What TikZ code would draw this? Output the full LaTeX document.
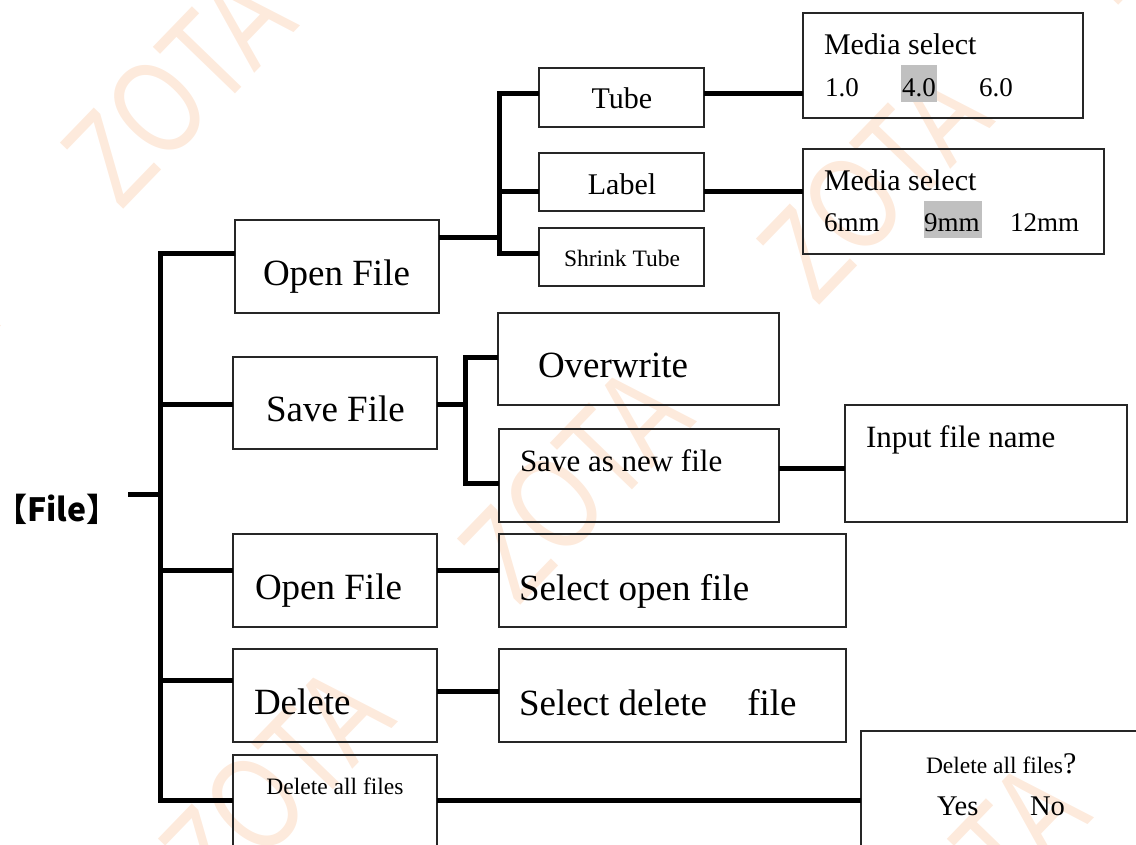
\documentclass[tikz,border=0pt]{standalone}
\usepackage{fontspec}
\setmainfont{Liberation Serif}
\newfontfamily\wmfont{Liberation Sans}
\newfontfamily\cjkfont{Noto Sans CJK SC}
\newcommand\myfs[1]{\fontsize{#1}{#1}\selectfont}
\definecolor{wmcol}{RGB}{253,234,220}
\definecolor{hlcol}{RGB}{192,192,192}
\tikzset{
  box/.style={draw=black!85, line width=1.8pt, inner sep=0pt, outer sep=0pt, anchor=north west},
  conn/.style={line width=5pt, line join=miter},
  lbl/.style={inner sep=0pt, outer sep=0pt, anchor=base west},
  clbl/.style={inner sep=0pt, outer sep=0pt, anchor=base},
  wm/.style={text=wmcol, font=\wmfont\myfs{133}, inner sep=0pt, rotate=46},
}
\newcommand\wmtext{\scalebox{0.75}[1]{ZOTA}}
\begin{document}
\begin{tikzpicture}[x=1pt,y=-1pt]
\useasboundingbox (0,0) rectangle (1136,845);
\clip (0,0) rectangle (1136,845);
% watermark
\node[wm] (w1) at (178,87) {\wmtext};
\node[wm] (w2) at (575,483) {\wmtext};
\node[wm] (w3) at (874,183) {\wmtext};
\node[wm] (w4) at (276,783) {\wmtext};
\node[wm] (w5) at (-121,387) {\wmtext};
\node[wm] (w6) at (972,879) {\wmtext};
\node[wm] (w7) at (1173,-117) {\wmtext};
\node[wm] (w8) at (1271,579) {\wmtext};
% boxes
\node[box, minimum width=204pt, minimum height=93pt] (of1) at (235,220) {};
\node[box, minimum width=204pt, minimum height=92pt] (sf) at (233,357) {};
\node[box, minimum width=204pt, minimum height=93pt] (of2) at (233,534) {};
\node[box, minimum width=204pt, minimum height=93pt] (del) at (233,649) {};
\node[box, minimum width=204pt, minimum height=130pt] (dall) at (233,755) {};
\node[box, minimum width=165pt, minimum height=59pt] (tube) at (539,68) {};
\node[box, minimum width=165pt, minimum height=58pt] (label) at (539,153) {};
\node[box, minimum width=165pt, minimum height=58pt] (shrink) at (539,228) {};
\node[box, minimum width=280pt, minimum height=105pt] (ms1) at (803,13) {};
\node[box, minimum width=301pt, minimum height=105pt] (ms2) at (803,149) {};
\node[box, minimum width=281pt, minimum height=92pt] (ow) at (498,313) {};
\node[box, minimum width=280pt, minimum height=93pt] (san) at (499,429) {};
\node[box, minimum width=282pt, minimum height=117pt] (ifn) at (845,405) {};
\node[box, minimum width=347pt, minimum height=93pt] (sof) at (499,534) {};
\node[box, minimum width=347pt, minimum height=93pt] (sdf) at (499,649) {};
\node[box, minimum width=300pt, minimum height=150pt] (dq) at (861,731) {};
% highlights
\fill[hlcol] (901,65) rectangle (937,102);
\fill[hlcol] (924,201) rectangle (982,238);
% texts
\node[lbl, font=\cjkfont\bfseries\myfs{32}] (file) at (-5,521) {【File】};
\node[lbl, font=\myfs{37}] (of1t) at (263,286) {Open File};
\node[lbl, font=\myfs{37}] (sft) at (266,421) {Save File};
\node[lbl, font=\myfs{37}] (of2t) at (255,599) {Open File};
\node[lbl, font=\myfs{37}] (delt) at (254,714) {Delete};
\node[clbl, font=\myfs{23.5}] (dallt) at (335,794) {Delete all files};
\node[clbl, font=\myfs{30}] (tubet) at (622,109) {Tube};
\node[clbl, font=\myfs{30}] (labelt) at (622,195) {Label};
\node[clbl, font=\myfs{23.5}] (shrinkt) at (622,267) {Shrink Tube};
\node[lbl, font=\myfs{30}] (ms1t) at (824,55) {Media select};
\node[lbl, font=\myfs{27}] (n1) at (825,97) {1.0};
\node[lbl, font=\myfs{27}] (n4) at (902,97) {4.0};
\node[lbl, font=\myfs{27}] (n6) at (979,97) {6.0};
\node[lbl, font=\myfs{30}] (ms2t) at (824,191) {Media select};
\node[lbl, font=\myfs{27}] (m6) at (824,232) {6mm};
\node[lbl, font=\myfs{27}] (m9) at (924,232) {9mm};
\node[lbl, font=\myfs{27}] (m12) at (1010,232) {12mm};
\node[lbl, font=\myfs{37}] (owt) at (538,377) {Overwrite};
\node[lbl, font=\myfs{31}] (sant) at (520,471) {Save as new file};
\node[lbl, font=\myfs{31}] (ifnt) at (866,447) {Input file name};
\node[lbl, font=\myfs{37}] (soft) at (519,600) {Select open file};
\node[lbl, font=\myfs{37}] (sdft) at (519,715) {Select delete\hspace{31pt} file};
\node[lbl, font=\myfs{23.5}] (dqt) at (926,773) {Delete all files\myfs{30}?};
\node[lbl, font=\myfs{28.5}] (yes) at (937,815) {Yes};
\node[lbl, font=\myfs{28.5}] (no) at (1030,815) {No};
% connector coordinates
\coordinate (fs) at (128,494);
\coordinate (ta) at (160,254);
\coordinate (tb) at (160,800);
\coordinate (c1) at (160,404);
\coordinate (c3) at (160,570);
\coordinate (c4) at (160,680);
\coordinate (c4r) at (0,691);
\coordinate (oa) at (499,94);
\coordinate (ob) at (499,254);
\coordinate (oc) at (499,238);
\coordinate (od) at (499,192);
\coordinate (sa) at (465,357);
\coordinate (sb) at (465,483);
\coordinate (sc) at (465,404);
\coordinate (c2) at (0,468);
% connectors
\draw[conn] (fs) -- (fs -| ta);
\draw[conn] (of1.west |- ta) -- (ta) -- (tb) -- (dall.west |- tb);
\draw[conn] (c1) -- (sf.west |- c1);
\draw[conn] (c3) -- (of2.west |- c3);
\draw[conn] (c4) -- (del.west |- c4);
\draw[conn] (of1.east |- oc) -- (oc);
\draw[conn] (tube.west |- oa) -- (oa) -- (ob) -- (shrink.west |- ob);
\draw[conn] (od) -- (label.west |- od);
\draw[conn] (tube.east |- oa) -- (ms1.west |- oa);
\draw[conn] (label.east |- od) -- (ms2.west |- od);
\draw[conn] (sf.east |- sc) -- (sc);
\draw[conn] (ow.west |- sa) -- (sa) -- (sb) -- (san.west |- sb);
\draw[conn] (san.east |- c2) -- (ifn.west |- c2);
\draw[conn] (of2.east |- c3) -- (sof.west |- c3);
\draw[conn] (del.east |- c4r) -- (sdf.west |- c4r);
\draw[conn] (dall.east |- tb) -- (dq.west |- tb);
\end{tikzpicture}
\end{document}
